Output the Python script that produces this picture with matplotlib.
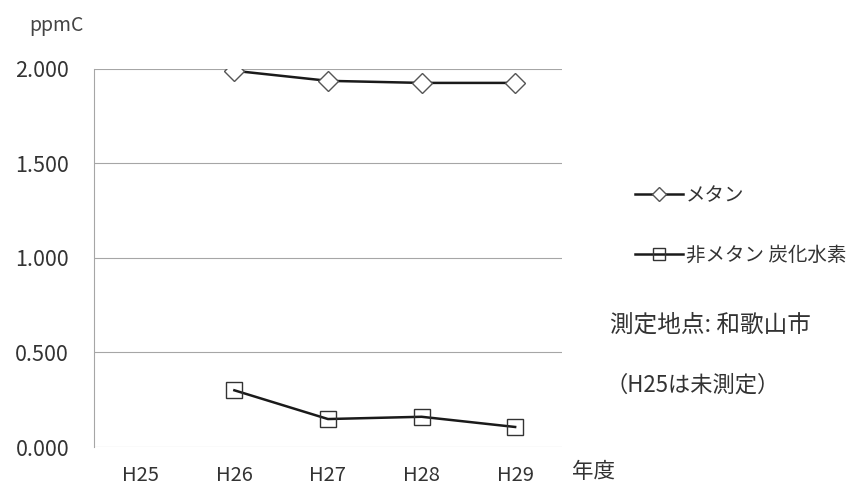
import matplotlib.pyplot as plt

plt.rcParams['font.family'] = ['Noto Sans CJK JP', 'DejaVu Sans']

# データ
years = ['H25', 'H26', 'H27', 'H28', 'H29']
methane = [None, 1.990, 1.937, 1.926, 1.926]
nmhc = [None, 0.300, 0.148, 0.160, 0.106]
yticks = [0.0, 0.5, 1.0, 1.5, 2.0]
ytick_labels = ['0.000', '0.500', '1.000', '1.500', '2.000']

x = list(range(len(years)))
fig = plt.figure(figsize=(8.57, 4.86), dpi=100)
ax = fig.add_axes([0.1097, 0.0802, 0.546, 0.778])

m = [float('nan') if v is None else v for v in methane]
n = [float('nan') if v is None else v for v in nmhc]
ax.plot(x, m, color='#1a1a1a', lw=1.8, marker='D', markersize=10,
        markerfacecolor='white', markeredgecolor='#555555', markeredgewidth=1.0,
        label='メタン', zorder=3)
ax.plot(x, n, color='#1a1a1a', lw=1.8, marker='s', markersize=12,
        markerfacecolor='none', markeredgecolor='#333333', markeredgewidth=1.0,
        label='非メタン 炭化水素', zorder=3)

ax.set_xlim(-0.5, 4.5)
ax.set_ylim(0, 2.0)
ax.set_xticks(x)
ax.set_xticklabels(years)
ax.set_yticks(yticks)
ax.set_yticklabels(ytick_labels)
ax.tick_params(length=0, labelsize=14.5, colors='#333333')
ax.tick_params(axis='y', labelsize=15.5)
ax.tick_params(axis='x', pad=13)
ax.tick_params(axis='y', pad=18)
ax.grid(axis='y', color='#a6a6a6', lw=0.8)
ax.set_axisbelow(True)
for s in ['top', 'right', 'bottom']:
    ax.spines[s].set_visible(False)
ax.spines['left'].set_color('#a6a6a6')
ax.spines['left'].set_linewidth(0.8)

fig.text(0.034, 0.948, 'ppmC', fontsize=14, color='#444444', va='center')
fig.text(0.667, 0.029, '年度', fontsize=15.5, color='#333333', va='center')

ax.legend(loc='upper left', bbox_to_anchor=(0.72, 0.655), bbox_transform=fig.transFigure,
          frameon=False, fontsize=14, handlelength=2.5, handletextpad=0.15,
          labelspacing=2.0, labelcolor='#333333', markerscale=0.7)

fig.text(0.712, 0.331, '測定地点: 和歌山市', fontsize=17, color='#333333', va='center')
fig.text(0.706, 0.208, '（H25は未測定）', fontsize=16, color='#333333', va='center')

fig.savefig('out.png', dpi=100)
